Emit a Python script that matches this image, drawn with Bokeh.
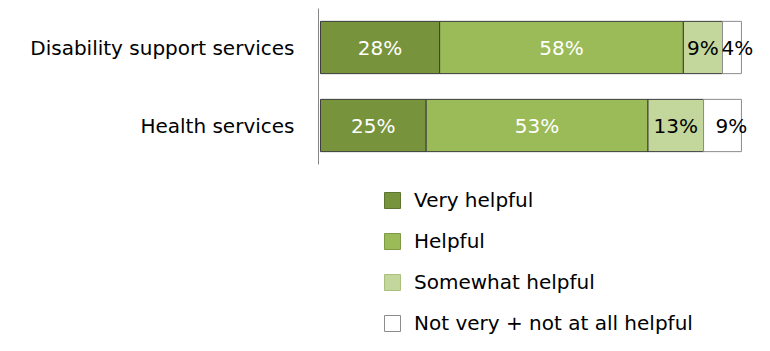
from bokeh.plotting import figure
from bokeh.models import ColumnDataSource, FactorRange, Range1d, Legend, LegendItem
from bokeh.layouts import column
from bokeh.core.properties import value
from bokeh.embed import file_html
from bokeh.resources import INLINE

# ---- data ----
categories = ["Disability support services", "Health services"]
series = ["Very helpful", "Helpful", "Somewhat helpful", "Not very + not at all helpful"]
very_helpful = [28.3, 25.1]
helpful = [57.9, 52.7]
somewhat_helpful = [9.3, 13.2]
not_helpful = [4.5, 9.0]
labels_very = ["28%", "25%"]
labels_helpful = ["58%", "53%"]
labels_somewhat = ["9%", "13%"]
labels_not = ["4%", "9%"]

colors = ["#77933C", "#9BBB59", "#C3D69B", "#FFFFFF"]
legend_lines = ["#5E7530", "#7E9A45", "#A9BF7E", "#8C8C8C"]
label_colors = ["white", "white", "black", "black"]
FONT = "DejaVu Sans"
FS = "20px"

W = 754
LEFT_BORDER = 318
X0, X1 = -0.475, 103.1
PX_PER_UNIT = (W - LEFT_BORDER) / (X1 - X0)

keys = ["v0", "v1", "v2", "v3"]
data = {"cat": categories}
for k, vals in zip(keys, [very_helpful, helpful, somewhat_helpful, not_helpful]):
    data[k] = vals

p = figure(width=W, height=165, y_range=FactorRange(factors=categories[::-1], range_padding=0),
           x_range=Range1d(X0, X1), output_backend="svg", toolbar_location=None,
           min_border_left=LEFT_BORDER, min_border_right=0, min_border_top=8, min_border_bottom=1)
p.outline_line_color = None
p.xaxis.visible = False
p.xgrid.visible = False
p.ygrid.visible = False
p.yaxis.axis_line_color = "#868686"
p.yaxis.axis_line_width = 1
p.yaxis.major_tick_line_color = None
p.yaxis.minor_tick_line_color = None
p.yaxis.major_tick_out = 0
p.yaxis.major_label_standoff = 24
p.yaxis.major_label_text_font = FONT
p.yaxis.major_label_text_font_size = FS
p.yaxis.major_label_text_color = "black"

line_cols = ["#3c3c3c", "#3c3c3c", "#3c3c3c", "#8c8c8c"]
all_labels = [labels_very, labels_helpful, labels_somewhat, labels_not]
lefts = []
sources = []
for i, k in enumerate(keys):
    left = [0.0] * len(categories)
    for j in range(i):
        left = [a + b for a, b in zip(left, data[keys[j]])]
    lefts.append(left)
    right = [a + b for a, b in zip(left, data[k])]
    s = ColumnDataSource(dict(cat=categories, left=left, right=right))
    sources.append(s)
    p.hbar(y="cat", left="left", right="right", height=0.67, source=s,
           fill_color=colors[i], line_color=line_cols[i], line_width=1)

for i, k in enumerate(keys):
    left = lefts[i]
    if i < 3:
        xs = [l + w / 2 for l, w in zip(left, data[k])]
        ls = ColumnDataSource(dict(x=xs, y=categories, t=all_labels[i]))
        p.text(x="x", y="y", text="t", source=ls, text_align="center", text_baseline="middle",
               text_font=value(FONT), text_font_size=FS, text_color=label_colors[i])
    else:
        # labels of the last (white) segment start a little right of its left edge,
        # but are kept inside the canvas
        offs = []
        for l in left:
            left_px = LEFT_BORDER + (l - X0) * PX_PER_UNIT
            offs.append(min(12, (W - 1 - 32) - left_px))
        ls = ColumnDataSource(dict(x=left, y=categories, t=all_labels[i], dx=offs))
        p.text(x="x", y="y", text="t", source=ls, text_align="left", text_baseline="middle",
               x_offset="dx", text_font=value(FONT), text_font_size=FS, text_color=label_colors[i])

# ---- legend panel ----
q = figure(width=W, height=170, x_range=Range1d(X0, X1), y_range=FactorRange(factors=categories[::-1]),
           output_backend="svg", toolbar_location=None,
           min_border_left=LEFT_BORDER, min_border_right=0, min_border_top=0, min_border_bottom=0)
q.outline_line_color = None
q.xaxis.visible = False
q.yaxis.visible = False
q.xgrid.visible = False
q.ygrid.visible = False
items = []
for i, name in enumerate(series):
    r = q.hbar(y="cat", left="left", right="right", height=0.67, source=sources[i],
               fill_color=colors[i], line_color=legend_lines[i], line_width=1, visible=False)
    items.append(LegendItem(label=name, renderers=[r]))
leg = Legend(items=items, location=(64, 0), glyph_width=20, glyph_height=20, label_height=20,
             label_standoff=12, spacing=17, padding=0, margin=0, border_line_color=None,
             background_fill_alpha=0, label_text_font=FONT, label_text_font_size=FS,
             label_text_color="black", label_text_baseline="middle")
q.add_layout(leg)

layout = column(p, q, spacing=0)
open("out.html", "w").write(file_html(layout, INLINE))
